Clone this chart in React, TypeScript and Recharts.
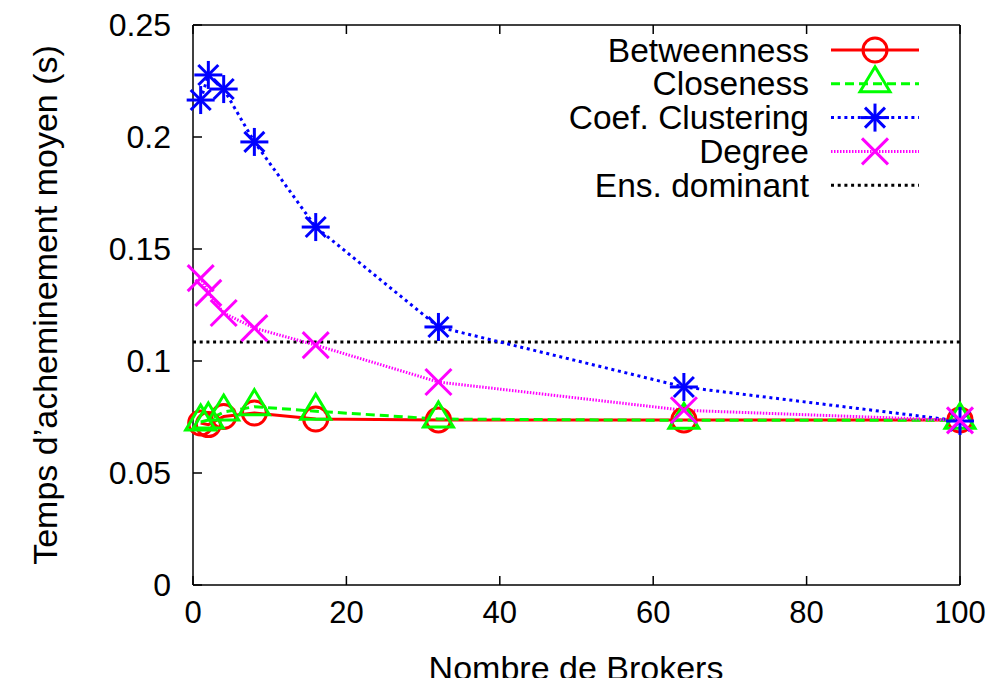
import React from 'react';
import { LineChart, Line, XAxis, YAxis, ReferenceLine } from 'recharts';

const brokers = [1, 2, 4, 8, 16, 32, 64, 100];
const betweenness = [0.0723, 0.0716, 0.0752, 0.0768, 0.0741, 0.0737, 0.0737, 0.0737];
const closeness = [0.0728, 0.0737, 0.0772, 0.0796, 0.0776, 0.0741, 0.0735, 0.0735];
const clustering = [0.2165, 0.2277, 0.2214, 0.1978, 0.1598, 0.1152, 0.0884, 0.0732];
const degree = [0.137, 0.1304, 0.1214, 0.1147, 0.1071, 0.0906, 0.078, 0.0735];
const dominant = 0.1085;

const xTicks = [0, 20, 40, 60, 80, 100];
const yTicks = [0, 0.05, 0.1, 0.15, 0.2, 0.25];

const data = brokers.map((b, i) => ({
    brokers: b,
    betweenness: betweenness[i],
    closeness: closeness[i],
    clustering: clustering[i],
    degree: degree[i],
}));

const FONT = '"Liberation Sans", Arial, Helvetica, sans-serif';
const W = 990;
const H = 670;

type Shape = 'circle' | 'triangle' | 'star' | 'cross';

const Marker = ({ shape, color, cx, cy }: { shape: Shape; color: string; cx: number; cy: number }) => {
    const sw = 3;
    if (shape === 'circle') return <circle cx={cx} cy={cy} r={12} fill="none" stroke={color} strokeWidth={sw} />;
    if (shape === 'triangle')
        return (
            <polygon
                points={`${cx},${cy - 17} ${cx + 15},${cy + 8} ${cx - 15},${cy + 8}`}
                fill="none"
                stroke={color}
                strokeWidth={sw}
            />
        );
    if (shape === 'star')
        return (
            <g stroke={color} strokeWidth={sw}>
                <line x1={cx - 14} y1={cy} x2={cx + 14} y2={cy} />
                <line x1={cx} y1={cy - 14} x2={cx} y2={cy + 14} />
                <line x1={cx - 10} y1={cy - 10} x2={cx + 10} y2={cy + 10} />
                <line x1={cx - 10} y1={cy + 10} x2={cx + 10} y2={cy - 10} />
            </g>
        );
    return (
        <g stroke={color} strokeWidth={sw}>
            <line x1={cx - 13} y1={cy - 13} x2={cx + 13} y2={cy + 13} />
            <line x1={cx - 13} y1={cy + 13} x2={cx + 13} y2={cy - 13} />
        </g>
    );
};

const series = [
    { key: 'betweenness', name: 'Betweenness', color: '#ff0000', dash: undefined, shape: 'circle' as Shape },
    { key: 'closeness', name: 'Closeness', color: '#00ff00', dash: '9 5', shape: 'triangle' as Shape },
    { key: 'clustering', name: 'Coef. Clustering', color: '#0000ff', dash: '3 3.7', shape: 'star' as Shape },
    { key: 'degree', name: 'Degree', color: '#ff00ff', dash: '1.5 1.5', shape: 'cross' as Shape },
];

const dot = (shape: Shape, color: string) => (props: any) => {
    const { cx, cy, index } = props;
    return <Marker key={`m-${shape}-${index}`} shape={shape} color={color} cx={cx} cy={cy} />;
};

const BottomTick = (props: any) => {
    const { x, y, payload } = props;
    return (
        <g>
            <line x1={x} y1={y} x2={x} y2={y - 9} stroke="#000" strokeWidth={1.5} />
            <text x={x} y={y + 27} textAnchor="middle" dominantBaseline="central" fontSize={31} fontFamily={FONT} fill="#000">
                {payload.value}
            </text>
        </g>
    );
};

const TopTick = (props: any) => {
    const { x, y } = props;
    return <line x1={x} y1={y} x2={x} y2={y + 9} stroke="#000" strokeWidth={1.5} />;
};

const LeftTick = (props: any) => {
    const { x, y, payload } = props;
    return (
        <g>
            <line x1={x} y1={y} x2={x + 9} y2={y} stroke="#000" strokeWidth={1.5} />
            <text x={x - 22} y={y} textAnchor="end" dominantBaseline="central" fontSize={32} fontFamily={FONT} fill="#000">
                {payload.value}
            </text>
        </g>
    );
};

const RightTick = (props: any) => {
    const { x, y } = props;
    return <line x1={x} y1={y} x2={x - 9} y2={y} stroke="#000" strokeWidth={1.5} />;
};

const LegendBox = () => {
    const rows = [
        ...series.map((s) => ({ name: s.name, color: s.color, dash: s.dash, shape: s.shape as Shape | null })),
        { name: 'Ens. dominant', color: '#000', dash: '3 3.7', shape: null as Shape | null },
    ];
    return (
        <svg width={340} height={175} style={{ overflow: 'visible', display: 'block' }}>
            {rows.map((r, i) => {
                const y = 18 + i * 33.8;
                return (
                    <g key={r.name}>
                        <text x={220} y={y} textAnchor="end" dominantBaseline="central" fontSize={33.5} fontFamily={FONT} fill="#000">
                            {r.name}
                        </text>
                        <line x1={242} y1={y} x2={330} y2={y} stroke={r.color} strokeWidth={3} strokeDasharray={r.dash} />
                        {r.shape && <Marker shape={r.shape} color={r.color} cx={286} cy={y} />}
                    </g>
                );
            })}
        </svg>
    );
};

export default function App() {
    return (
        <div style={{ position: 'relative', width: W, height: H, fontFamily: FONT }}>
            <LineChart width={W} height={H} data={data} margin={{ top: 16, right: 37, bottom: 92, left: 184 }}>
                <XAxis
                    xAxisId="bottom"
                    dataKey="brokers"
                    type="number"
                    domain={[0, 100]}
                    ticks={xTicks}
                    height={1}
                    tickSize={0}
                    tickMargin={0}
                    tick={<BottomTick />}
                    axisLine={{ stroke: '#000', strokeWidth: 1.5 }}
                    tickLine={false}
                />
                <XAxis
                    xAxisId="top"
                    orientation="top"
                    dataKey="brokers"
                    type="number"
                    domain={[0, 100]}
                    ticks={xTicks}
                    height={1}
                    tickSize={0}
                    tickMargin={0}
                    tick={<TopTick />}
                    axisLine={{ stroke: '#000', strokeWidth: 1.5 }}
                    tickLine={false}
                />
                <YAxis
                    yAxisId="left"
                    type="number"
                    domain={[0, 0.25]}
                    ticks={yTicks}
                    width={1}
                    tickSize={0}
                    tickMargin={0}
                    tick={<LeftTick />}
                    axisLine={{ stroke: '#000', strokeWidth: 1.5 }}
                    tickLine={false}
                />
                <YAxis
                    yAxisId="right"
                    orientation="right"
                    type="number"
                    domain={[0, 0.25]}
                    ticks={yTicks}
                    width={1}
                    tickSize={0}
                    tickMargin={0}
                    tick={<RightTick />}
                    axisLine={{ stroke: '#000', strokeWidth: 1.5 }}
                    tickLine={false}
                />
                <ReferenceLine
                    xAxisId="bottom"
                    yAxisId="left"
                    y={dominant}
                    stroke="#000"
                    strokeWidth={3}
                    strokeDasharray="3 3.7"
                />
                {series.map((s) => (
                    <Line
                        key={s.key}
                        xAxisId="bottom"
                        yAxisId="left"
                        dataKey={s.key}
                        name={s.name}
                        stroke={s.color}
                        strokeWidth={3}
                        strokeDasharray={s.dash}
                        type="linear"
                        dot={dot(s.shape, s.color)}
                        activeDot={false}
                        isAnimationActive={false}
                    />
                ))}
            </LineChart>
            <div style={{ position: 'absolute', left: 581, top: 24 }}>
                <LegendBox />
            </div>
            <div
                style={{
                    position: 'absolute',
                    left: 568,
                    top: 645,
                    transform: 'translateX(-50%)',
                    fontSize: 34,
                    lineHeight: '30px',
                    whiteSpace: 'nowrap',
                }}
            >
                Nombre de Brokers
            </div>
            <div
                style={{
                    position: 'absolute',
                    left: 37,
                    top: 297,
                    transform: 'translate(-50%, -50%) rotate(-90deg)',
                    fontSize: 34,
                    whiteSpace: 'nowrap',
                }}
            >
                Temps d’acheminement moyen (s)
            </div>
        </div>
    );
}
